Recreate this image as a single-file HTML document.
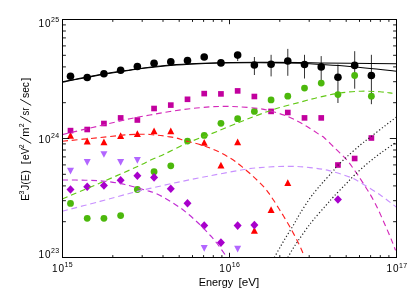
<!DOCTYPE html>
<html><head><meta charset="utf-8"><title>plot</title>
<style>html,body{margin:0;padding:0;background:#fff;overflow:hidden}body{width:415px;height:297px;font-family:"Liberation Sans",sans-serif}</style>
</head><body>
<svg width="415" height="297" viewBox="0 0 415 297" style="display:block;will-change:transform;opacity:0.999">
<rect width="415" height="297" fill="#fff"/>
<defs><clipPath id="c"><rect x="62.5" y="19.5" width="334.0" height="238.0"/></clipPath></defs>
<line x1="337.9" x2="337.9" y1="64.5" y2="103" stroke="#7c7c7c" stroke-width="1.6"/>
<line x1="237.7" x2="237.7" y1="52.0" y2="61.0" stroke="#333" stroke-width="1"/>
<line x1="254.4" x2="254.4" y1="57.0" y2="75.0" stroke="#333" stroke-width="1"/>
<line x1="271.1" x2="271.1" y1="54.8" y2="76.4" stroke="#333" stroke-width="1"/>
<line x1="287.8" x2="287.8" y1="48.9" y2="75.8" stroke="#333" stroke-width="1"/>
<line x1="304.5" x2="304.5" y1="54.8" y2="78.5" stroke="#333" stroke-width="1"/>
<line x1="321.2" x2="321.2" y1="56.1" y2="80.1" stroke="#333" stroke-width="1"/>
<line x1="354.7" x2="354.7" y1="51.2" y2="88.7" stroke="#333" stroke-width="1"/>
<line x1="371.4" x2="371.4" y1="54.8" y2="104.2" stroke="#333" stroke-width="1"/>
<circle cx="70.50" cy="76.20" r="3.8" fill="#000"/>
<circle cx="87.22" cy="77.50" r="3.8" fill="#000"/>
<circle cx="103.93" cy="73.80" r="3.8" fill="#000"/>
<circle cx="120.64" cy="70.30" r="3.8" fill="#000"/>
<circle cx="137.36" cy="66.50" r="3.8" fill="#000"/>
<circle cx="154.07" cy="63.20" r="3.8" fill="#000"/>
<circle cx="170.79" cy="61.80" r="3.8" fill="#000"/>
<circle cx="187.50" cy="60.50" r="3.8" fill="#000"/>
<circle cx="204.22" cy="57.00" r="3.8" fill="#000"/>
<circle cx="220.94" cy="62.90" r="3.8" fill="#000"/>
<circle cx="237.65" cy="55.10" r="3.8" fill="#000"/>
<circle cx="254.37" cy="65.00" r="3.8" fill="#000"/>
<circle cx="271.08" cy="64.20" r="3.8" fill="#000"/>
<circle cx="287.79" cy="61.00" r="3.8" fill="#000"/>
<circle cx="304.51" cy="64.50" r="3.8" fill="#000"/>
<circle cx="321.23" cy="66.90" r="3.8" fill="#000"/>
<circle cx="337.94" cy="77.30" r="3.8" fill="#000"/>
<circle cx="354.65" cy="65.40" r="3.8" fill="#000"/>
<circle cx="371.37" cy="75.50" r="3.8" fill="#000"/>
<path d="M67.00 167.85 h7 l-3.5 6.7z" fill="#b266ff"/>
<path d="M83.72 159.05 h7 l-3.5 6.7z" fill="#b266ff"/>
<path d="M100.43 151.15 h7 l-3.5 6.7z" fill="#b266ff"/>
<path d="M117.14 159.05 h7 l-3.5 6.7z" fill="#b266ff"/>
<path d="M133.86 156.95 h7 l-3.5 6.7z" fill="#b266ff"/>
<path d="M200.72 244.95 h7 l-3.5 6.7z" fill="#b266ff"/>
<path d="M234.15 245.85 h7 l-3.5 6.7z" fill="#b266ff"/>
<path d="M67.00 138.70 h7 l-3.5 -6.8z" fill="#ff0000"/>
<path d="M83.72 144.40 h7 l-3.5 -6.8z" fill="#ff0000"/>
<path d="M100.43 145.20 h7 l-3.5 -6.8z" fill="#ff0000"/>
<path d="M117.14 139.00 h7 l-3.5 -6.8z" fill="#ff0000"/>
<path d="M133.86 137.10 h7 l-3.5 -6.8z" fill="#ff0000"/>
<path d="M150.57 134.20 h7 l-3.5 -6.8z" fill="#ff0000"/>
<path d="M167.29 134.20 h7 l-3.5 -6.8z" fill="#ff0000"/>
<path d="M200.72 145.70 h7 l-3.5 -6.8z" fill="#ff0000"/>
<path d="M234.15 145.20 h7 l-3.5 -6.8z" fill="#ff0000"/>
<path d="M217.44 168.60 h7 l-3.5 -6.8z" fill="#ff0000"/>
<path d="M250.87 233.80 h7 l-3.5 -6.8z" fill="#ff0000"/>
<path d="M267.58 213.10 h7 l-3.5 -6.8z" fill="#ff0000"/>
<path d="M284.29 186.10 h7 l-3.5 -6.8z" fill="#ff0000"/>
<rect x="67.65" y="127.80" width="5.7" height="5.6" fill="#c2009e"/>
<rect x="84.37" y="126.70" width="5.7" height="5.6" fill="#c2009e"/>
<rect x="101.08" y="120.70" width="5.7" height="5.6" fill="#c2009e"/>
<rect x="117.80" y="115.10" width="5.7" height="5.6" fill="#c2009e"/>
<rect x="134.51" y="117.20" width="5.7" height="5.6" fill="#c2009e"/>
<rect x="151.22" y="105.70" width="5.7" height="5.6" fill="#c2009e"/>
<rect x="167.94" y="102.30" width="5.7" height="5.6" fill="#c2009e"/>
<rect x="184.66" y="96.50" width="5.7" height="5.6" fill="#c2009e"/>
<rect x="201.37" y="90.80" width="5.7" height="5.6" fill="#c2009e"/>
<rect x="218.09" y="91.10" width="5.7" height="5.6" fill="#c2009e"/>
<rect x="234.80" y="88.10" width="5.7" height="5.6" fill="#c2009e"/>
<rect x="251.52" y="93.70" width="5.7" height="5.6" fill="#c2009e"/>
<rect x="268.23" y="108.60" width="5.7" height="5.6" fill="#c2009e"/>
<rect x="284.94" y="109.70" width="5.7" height="5.6" fill="#c2009e"/>
<rect x="301.66" y="115.10" width="5.7" height="5.6" fill="#c2009e"/>
<rect x="318.38" y="115.10" width="5.7" height="5.6" fill="#c2009e"/>
<rect x="335.09" y="162.20" width="5.7" height="5.6" fill="#c2009e"/>
<rect x="351.80" y="155.70" width="5.7" height="5.6" fill="#c2009e"/>
<rect x="368.52" y="135.20" width="5.7" height="5.6" fill="#c2009e"/>
<circle cx="70.50" cy="203.40" r="3.4" fill="#4cb80c"/>
<circle cx="87.22" cy="218.30" r="3.4" fill="#4cb80c"/>
<circle cx="103.93" cy="218.30" r="3.4" fill="#4cb80c"/>
<circle cx="120.64" cy="215.60" r="3.4" fill="#4cb80c"/>
<circle cx="137.36" cy="189.50" r="3.4" fill="#4cb80c"/>
<circle cx="154.07" cy="171.70" r="3.4" fill="#4cb80c"/>
<circle cx="170.79" cy="165.80" r="3.4" fill="#4cb80c"/>
<circle cx="187.50" cy="141.10" r="3.4" fill="#4cb80c"/>
<circle cx="204.22" cy="135.40" r="3.4" fill="#4cb80c"/>
<circle cx="220.94" cy="123.30" r="3.4" fill="#4cb80c"/>
<circle cx="237.65" cy="118.70" r="3.4" fill="#4cb80c"/>
<circle cx="254.37" cy="111.40" r="3.4" fill="#4cb80c"/>
<circle cx="271.08" cy="99.90" r="3.4" fill="#4cb80c"/>
<circle cx="287.79" cy="96.20" r="3.4" fill="#4cb80c"/>
<circle cx="304.51" cy="88.10" r="3.4" fill="#4cb80c"/>
<circle cx="321.23" cy="83.10" r="3.4" fill="#4cb80c"/>
<circle cx="337.94" cy="94.60" r="3.4" fill="#4cb80c"/>
<circle cx="354.65" cy="75.50" r="3.4" fill="#4cb80c"/>
<circle cx="371.37" cy="96.20" r="3.4" fill="#4cb80c"/>
<path d="M66.50 189.50 l4.0 -4.3 l4.0 4.3 l-4.0 4.3z" fill="#a800cc"/>
<path d="M83.22 186.80 l4.0 -4.3 l4.0 4.3 l-4.0 4.3z" fill="#a800cc"/>
<path d="M99.93 185.50 l4.0 -4.3 l4.0 4.3 l-4.0 4.3z" fill="#a800cc"/>
<path d="M116.64 180.30 l4.0 -4.3 l4.0 4.3 l-4.0 4.3z" fill="#a800cc"/>
<path d="M133.36 175.70 l4.0 -4.3 l4.0 4.3 l-4.0 4.3z" fill="#a800cc"/>
<path d="M150.07 177.40 l4.0 -4.3 l4.0 4.3 l-4.0 4.3z" fill="#a800cc"/>
<path d="M166.79 188.70 l4.0 -4.3 l4.0 4.3 l-4.0 4.3z" fill="#a800cc"/>
<path d="M183.50 203.30 l4.0 -4.3 l4.0 4.3 l-4.0 4.3z" fill="#a800cc"/>
<path d="M200.22 225.50 l4.0 -4.3 l4.0 4.3 l-4.0 4.3z" fill="#a800cc"/>
<path d="M216.94 242.60 l4.0 -4.3 l4.0 4.3 l-4.0 4.3z" fill="#a800cc"/>
<path d="M233.65 225.60 l4.0 -4.3 l4.0 4.3 l-4.0 4.3z" fill="#a800cc"/>
<path d="M250.37 225.10 l4.0 -4.3 l4.0 4.3 l-4.0 4.3z" fill="#a800cc"/>
<path d="M333.94 199.50 l4.0 -4.3 l4.0 4.3 l-4.0 4.3z" fill="#a800cc"/>
<g clip-path="url(#c)" fill="none">
<path d="M62.3 134.6 C68.6 133.1 88.7 128.3 100.0 125.7 C111.3 123.1 121.7 120.5 130.0 118.7 C138.3 116.9 143.3 116.2 150.0 115.0 C156.7 113.8 163.3 112.5 170.0 111.5 C176.7 110.5 183.3 109.5 190.0 108.7 C196.7 107.9 204.2 107.3 210.0 106.9 C215.8 106.5 220.0 106.4 225.0 106.4 C230.0 106.4 234.2 106.5 240.0 106.9 C245.8 107.3 254.6 107.9 260.0 108.7 C265.4 109.5 268.4 110.5 272.3 111.5 C276.2 112.5 279.9 113.6 283.5 114.9 C287.1 116.2 290.1 117.4 294.0 119.3 C297.9 121.2 302.5 123.8 307.0 126.5 C311.5 129.2 318.1 133.8 320.9 135.6 C323.7 137.4 321.4 135.2 324.0 137.5 C326.6 139.8 332.4 145.6 336.2 149.4 C340.0 153.2 343.9 156.6 347.0 160.2 C350.1 163.8 352.3 167.2 355.0 171.0 C357.7 174.8 359.7 177.7 363.1 183.1 C366.5 188.5 370.9 195.1 375.2 203.4 C379.4 211.7 385.2 225.2 388.6 233.0 C392.0 240.8 394.4 247.5 395.6 250.4" stroke="#d42aba" stroke-width="1.15" stroke-dasharray="5.8 3.8"/>
<path d="M62.3 141.2 C68.6 140.6 89.5 138.6 100.0 137.6 C110.5 136.6 118.3 135.4 125.0 134.9 C131.7 134.4 135.8 134.4 140.0 134.3 C144.2 134.2 147.0 134.3 150.0 134.5 C153.0 134.7 155.2 134.9 158.0 135.2 C160.8 135.5 163.9 135.9 167.0 136.4 C170.1 136.9 173.6 137.3 176.6 138.0 C179.6 138.7 181.9 139.9 185.0 140.8 C188.1 141.7 191.8 142.4 195.0 143.2 C198.2 144.0 201.2 144.9 204.0 145.8 C206.8 146.7 209.3 147.7 212.0 148.8 C214.7 149.9 217.3 151.1 220.0 152.4 C222.7 153.7 225.5 155.3 228.0 156.8 C230.5 158.3 232.4 159.3 235.0 161.2 C237.6 163.1 240.7 165.7 243.5 168.0 C246.3 170.3 249.4 172.9 251.9 175.2 C254.4 177.5 256.4 179.4 258.7 181.7 C260.9 183.9 263.6 186.6 265.4 188.7 C267.2 190.8 268.3 192.5 269.7 194.5 C271.1 196.5 272.3 198.2 273.8 200.5 C275.3 202.8 277.2 205.9 278.8 208.5 C280.4 211.1 281.6 212.8 283.5 216.0 C285.4 219.2 287.9 223.3 290.3 227.6 C292.7 231.9 295.8 237.8 297.9 242.0 C300.0 246.2 302.1 251.1 302.9 252.9" stroke="#ff2020" stroke-width="1.15" stroke-dasharray="5.8 3.8"/>
<path d="M62.3 199.0 C68.6 196.3 87.3 188.5 100.0 183.0 C112.7 177.5 130.3 169.8 138.6 166.0 C146.9 162.2 145.6 162.4 150.0 160.4 C154.4 158.4 159.2 156.5 165.0 153.8 C170.8 151.1 179.2 146.6 185.0 144.0 C190.8 141.4 194.6 140.1 200.0 138.0 C205.4 135.9 210.7 134.0 217.4 131.3 C224.1 128.6 233.3 124.7 240.0 122.0 C246.7 119.3 252.0 117.3 257.8 115.1 C263.6 112.9 268.0 111.2 275.0 109.0 C282.0 106.8 292.5 104.2 300.0 102.2 C307.5 100.2 313.3 98.5 320.0 97.0 C326.7 95.5 333.2 94.0 340.0 93.0 C346.8 92.0 354.3 91.4 361.0 91.2 C367.7 91.0 374.8 91.5 380.0 91.8 C385.2 92.1 390.4 93.0 392.5 93.2" stroke="#62c814" stroke-width="1.15" stroke-dasharray="5.8 3.8"/>
<path d="M62.3 211.2 C68.6 209.6 88.7 204.4 100.0 201.4 C111.3 198.4 121.7 195.5 130.0 193.3 C138.3 191.1 141.7 190.3 150.0 188.4 C158.3 186.5 170.0 183.9 180.0 181.8 C190.0 179.7 200.0 177.7 210.0 175.8 C220.0 173.9 231.7 171.6 240.0 170.2 C248.3 168.8 251.9 168.2 260.0 167.6 C268.1 166.9 280.2 166.3 288.5 166.3 C296.8 166.3 303.2 166.9 310.0 167.6 C316.8 168.3 322.3 169.0 329.0 170.6 C335.7 172.2 344.8 175.2 350.0 177.2 C355.2 179.2 355.4 179.6 360.4 182.5 C365.4 185.4 374.0 190.7 380.0 194.8 C386.0 198.9 393.5 205.0 396.2 207.0" stroke="#c890ff" stroke-width="1.15" stroke-dasharray="5.8 3.8"/>
<path d="M62.3 180.0 C66.1 180.0 77.9 180.0 85.0 180.2 C92.1 180.4 98.3 180.5 105.0 181.2 C111.7 181.9 118.3 183.0 125.0 184.5 C131.7 186.0 140.2 188.6 145.0 190.0 C149.8 191.4 151.0 191.5 154.0 192.7 C157.0 193.9 160.1 195.4 163.0 197.0 C165.9 198.6 168.8 200.3 171.7 202.1 C174.5 203.9 177.4 205.8 180.1 207.7 C182.8 209.6 185.1 211.4 187.7 213.6 C190.3 215.8 193.3 218.5 195.7 220.7 C198.1 222.9 199.8 224.5 202.0 226.7 C204.2 228.9 206.7 231.5 208.8 233.8 C210.9 236.1 212.6 237.8 214.6 240.3 C216.6 242.8 219.2 246.3 221.1 249.0 C223.0 251.7 225.2 254.8 226.2 256.2 C227.2 257.6 226.9 257.3 227.0 257.5" stroke="#c02cd4" stroke-width="1.15" stroke-dasharray="5.8 3.8"/>
<path d="M274.3 257.5 C275.3 255.7 278.4 250.2 280.5 246.5 C282.6 242.8 284.8 239.1 287.0 235.5 C289.2 231.9 291.3 228.7 293.5 225.0 C295.7 221.3 297.2 218.1 300.0 213.5 C302.8 208.9 307.7 201.5 310.5 197.5 C313.3 193.5 314.9 191.9 316.9 189.4 C318.9 186.9 320.1 185.5 322.7 182.6 C325.3 179.7 329.8 174.8 332.3 172.0 C334.8 169.2 335.1 168.2 337.5 165.6 C339.9 163.0 343.2 160.1 347.0 156.7 C350.8 153.2 356.4 148.3 360.4 144.9 C364.4 141.5 367.1 139.7 371.2 136.5 C375.2 133.3 380.5 129.2 384.7 126.0 C388.9 122.8 394.4 118.6 396.3 117.1" stroke="#222" stroke-width="1.2" stroke-dasharray="1.2 2.2"/>
<path d="M287.8 257.5 C288.7 256.0 291.2 251.3 293.0 248.5 C294.8 245.7 296.1 243.7 298.3 240.5 C300.5 237.3 303.5 233.0 306.0 229.5 C308.5 226.0 310.2 223.6 313.5 219.7 C316.8 215.8 322.2 209.7 325.6 205.8 C329.0 202.0 330.4 200.2 333.7 196.6 C337.0 193.0 342.1 188.0 345.6 184.3 C349.2 180.6 351.2 178.2 355.0 174.6 C358.8 171.0 364.0 166.3 368.5 162.6 C373.0 158.8 377.4 155.5 382.0 152.1 C386.6 148.7 393.9 143.8 396.3 142.2" stroke="#222" stroke-width="1.2" stroke-dasharray="1.2 2.2"/>
<path d="M62.3 81.8 C65.2 81.2 73.7 79.5 80.0 78.3 C86.3 77.1 93.3 75.8 100.0 74.6 C106.7 73.4 113.3 72.3 120.0 71.3 C126.7 70.3 132.5 69.4 140.0 68.4 C147.5 67.5 156.7 66.4 165.0 65.6 C173.3 64.8 180.8 64.3 190.0 63.8 C199.2 63.3 208.3 63.0 220.0 62.7 C231.7 62.5 246.7 62.3 260.0 62.3 C273.3 62.3 290.0 62.5 300.0 62.6 C310.0 62.7 311.7 62.9 320.0 63.0 C328.3 63.1 337.2 63.2 350.0 63.3 C362.8 63.4 389.0 63.6 396.8 63.7" stroke="#000" stroke-width="1.05"/>
<path d="M62.3 82.2 C65.2 81.6 73.7 79.9 80.0 78.7 C86.3 77.5 93.3 76.2 100.0 75.0 C106.7 73.8 113.3 72.7 120.0 71.7 C126.7 70.7 132.5 69.8 140.0 68.8 C147.5 67.8 156.7 66.8 165.0 66.0 C173.3 65.2 180.8 64.7 190.0 64.2 C199.2 63.7 208.3 63.3 220.0 63.1 C231.7 62.9 246.7 62.8 260.0 62.8 C273.3 62.8 290.0 63.0 300.0 63.3 C310.0 63.6 311.7 64.0 320.0 64.5 C328.3 65.0 337.2 65.4 350.0 66.5 C362.8 67.6 389.0 70.4 396.8 71.2" stroke="#000" stroke-width="1.05"/>
</g>
<rect x="62.5" y="19.5" width="334.0" height="238.0" fill="none" stroke="#000" stroke-width="1"/>
<path d="M112.8 257.5 v-2.4 M112.8 19.5 v2.4 M62.5 221.7 h3.4 M396.5 221.7 h-3.4 M142.2 257.5 v-2.4 M142.2 19.5 v2.4 M62.5 200.7 h3.4 M396.5 200.7 h-3.4 M163.0 257.5 v-2.4 M163.0 19.5 v2.4 M62.5 185.9 h3.4 M396.5 185.9 h-3.4 M179.2 257.5 v-2.4 M179.2 19.5 v2.4 M62.5 174.3 h3.4 M396.5 174.3 h-3.4 M192.5 257.5 v-2.4 M192.5 19.5 v2.4 M62.5 164.9 h3.4 M396.5 164.9 h-3.4 M203.6 257.5 v-2.4 M203.6 19.5 v2.4 M62.5 156.9 h3.4 M396.5 156.9 h-3.4 M213.3 257.5 v-2.4 M213.3 19.5 v2.4 M62.5 150.0 h3.4 M396.5 150.0 h-3.4 M221.9 257.5 v-2.4 M221.9 19.5 v2.4 M62.5 143.9 h3.4 M396.5 143.9 h-3.4 M229.5 257.5 v-4.7 M229.5 19.5 v4.7 M62.5 138.5 h6.7 M396.5 138.5 h-6.7 M279.8 257.5 v-2.4 M279.8 19.5 v2.4 M62.5 102.7 h3.4 M396.5 102.7 h-3.4 M309.2 257.5 v-2.4 M309.2 19.5 v2.4 M62.5 81.7 h3.4 M396.5 81.7 h-3.4 M330.0 257.5 v-2.4 M330.0 19.5 v2.4 M62.5 66.9 h3.4 M396.5 66.9 h-3.4 M346.2 257.5 v-2.4 M346.2 19.5 v2.4 M62.5 55.3 h3.4 M396.5 55.3 h-3.4 M359.5 257.5 v-2.4 M359.5 19.5 v2.4 M62.5 45.9 h3.4 M396.5 45.9 h-3.4 M370.6 257.5 v-2.4 M370.6 19.5 v2.4 M62.5 37.9 h3.4 M396.5 37.9 h-3.4 M380.3 257.5 v-2.4 M380.3 19.5 v2.4 M62.5 31.0 h3.4 M396.5 31.0 h-3.4 M388.9 257.5 v-2.4 M388.9 19.5 v2.4 M62.5 24.9 h3.4 M396.5 24.9 h-3.4" stroke="#000" stroke-width="0.9" fill="none"/>
<text x="38.6" y="26.7" font-family="Liberation Sans, sans-serif" font-size="10" fill="#000" letter-spacing="0.8">10<tspan font-size="7" dx="-0.3" dy="-4.9" letter-spacing="0.3">25</tspan></text>
<text x="38.6" y="142.8" font-family="Liberation Sans, sans-serif" font-size="10" fill="#000" letter-spacing="0.8">10<tspan font-size="7" dx="-0.3" dy="-4.9" letter-spacing="0.3">24</tspan></text>
<text x="38.6" y="257.6" font-family="Liberation Sans, sans-serif" font-size="10" fill="#000" letter-spacing="0.8">10<tspan font-size="7" dx="-0.3" dy="-4.9" letter-spacing="0.3">23</tspan></text>
<text x="52.1" y="272.3" font-family="Liberation Sans, sans-serif" font-size="10" fill="#000" letter-spacing="0.8">10<tspan font-size="7" dx="-0.3" dy="-4.9" letter-spacing="0.3">15</tspan></text>
<text x="219.3" y="272.2" font-family="Liberation Sans, sans-serif" font-size="10" fill="#000" letter-spacing="0.8">10<tspan font-size="7" dx="-0.3" dy="-4.9" letter-spacing="0.3">16</tspan></text>
<text x="386.6" y="272.4" font-family="Liberation Sans, sans-serif" font-size="10" fill="#000" letter-spacing="0.8">10<tspan font-size="7" dx="-0.3" dy="-4.9" letter-spacing="0.3">17</tspan></text>
<text x="198.8" y="285.5" font-family="Liberation Sans, sans-serif" font-size="11" fill="#000" textLength="34.4" lengthAdjust="spacingAndGlyphs">Energy</text>
<text x="238.4" y="285.5" font-family="Liberation Sans, sans-serif" font-size="11" fill="#000" textLength="20.8" lengthAdjust="spacingAndGlyphs">[eV]</text>
<g transform="translate(29,200) rotate(-90)" font-family="Liberation Sans, sans-serif" font-size="11" fill="#000">
<text x="-0.7" y="0.0" textLength="6.6" lengthAdjust="spacingAndGlyphs">E</text>
<text x="5.4" y="-5.4" font-size="7">3</text>
<text x="9.7" y="0.0">J</text>
<text x="15.3" y="0.0">(</text>
<text x="18.8" y="0.0" textLength="7.1" lengthAdjust="spacingAndGlyphs">E</text>
<text x="26.2" y="0.0">)</text>
<text x="35.7" y="0.0">[</text>
<text x="39.8" y="0.0">e</text>
<text x="45.8" y="0.0" textLength="6.3" lengthAdjust="spacingAndGlyphs">V</text>
<text x="51.7" y="-5.4" font-size="7">2</text>
<text x="63.2" y="0.0">m</text>
<text x="72.7" y="-5.4" font-size="7">2</text>
<text x="84.5" y="0.0" textLength="7.9" lengthAdjust="spacingAndGlyphs">sr</text>
<text x="102.0" y="0.0" textLength="16.0" lengthAdjust="spacingAndGlyphs">sec</text>
<text x="119.3" y="0.0">]</text>
<line x1="56.6" y1="2.2" x2="62.8" y2="-8.8" stroke="#111" stroke-width="0.95"/>
<line x1="77.6" y1="2.2" x2="83.8" y2="-8.8" stroke="#111" stroke-width="0.95"/>
<line x1="94.6" y1="2.2" x2="100.8" y2="-8.8" stroke="#111" stroke-width="0.95"/>
</g>
</svg>
</body></html>
